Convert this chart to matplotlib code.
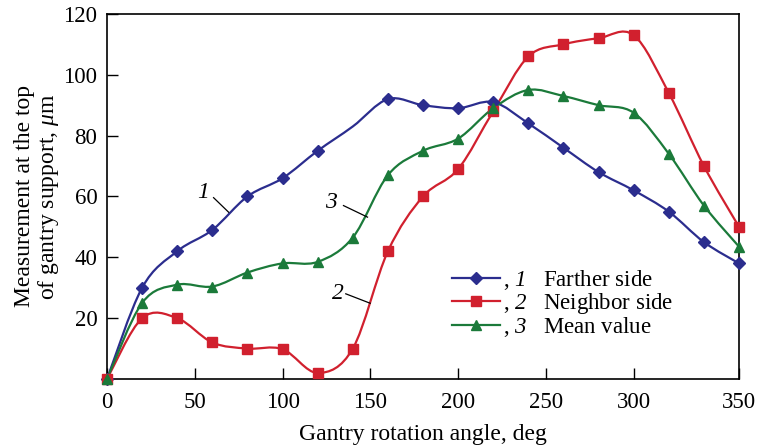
import numpy as np
import matplotlib
matplotlib.use('Agg')
import matplotlib.pyplot as plt
from matplotlib.path import Path
from matplotlib.patches import PathPatch
from matplotlib.lines import Line2D

plt.rcParams['font.family'] = ['Liberation Serif', 'DejaVu Serif']
plt.rcParams['mathtext.fontset'] = 'custom'
# digits inside $...$ come out in italic, as in the reference
plt.rcParams['mathtext.rm'] = 'Liberation Serif:italic'
plt.rcParams['mathtext.it'] = 'Liberation Serif:italic'

# angle of each measurement point (deg)
angles = [0, 20, 40, 60, 80, 100, 120, 140, 160, 180, 200, 220, 240, 260, 280, 300, 320, 340, 360]
farther = [0, 30, 42, 49, 60, 66, 75, 83, 92, 90, 89, 91, 84, 76, 68, 62, 55, 45, 38]
neighbor = [0, 20, 20, 12, 10, 9.8, 2, 10, 42, 60, 69, 88, 106, 110, 112, 113, 94, 70, 50]
mean_val = [0, 25, 31, 30.4, 35, 38, 38.5, 46.5, 67, 75, 79, 89, 95, 93, 90, 87.5, 74, 57, 43.5]

x_ticks = [0, 50, 100, 150, 200, 250, 300, 360]
x_tick_labels = ['0', '50', '100', '150', '200', '250', '300', '350']
y_ticks = [20, 40, 60, 80, 100, 120]

c_blue = '#2b2d8e'
c_red = '#d1202e'
c_green = '#1b7a3a'


def smooth_path(xs, ys):
    # Catmull-Rom through the points, drawn as cubic bezier path
    p = np.column_stack([xs, ys]).astype(float)
    p = np.vstack([p[0], p, p[-1]])
    verts = [p[1]]
    codes = [Path.MOVETO]
    for i in range(1, len(p) - 2):
        c1 = p[i] + (p[i + 1] - p[i - 1]) / 6
        c2 = p[i + 1] - (p[i + 2] - p[i]) / 6
        verts += [c1, c2, p[i + 1]]
        codes += [Path.CURVE4] * 3
    return Path(verts, codes)


fig = plt.figure(figsize=(7.6, 4.48), dpi=100)
ax = fig.add_axes([0.1408, 0.154, 0.8316, 0.815])

series = [
    (farther, c_blue, 'D', 6, r', $1$   Farther side'),
    (neighbor, c_red, 's', 6.5, r', $2$   Neighbor side'),
    (mean_val, c_green, '^', 7, r', $3$   Mean value'),
]

handles = []
for vals, col, mk, ms, lab in series:
    ax.add_patch(PathPatch(smooth_path(angles, vals), facecolor='none',
                           edgecolor=col, lw=1.6, zorder=2))
    if vals is farther:
        idx = [i for i in range(len(angles)) if angles[i] != 140]
    else:
        idx = list(range(len(angles)))
    ax.plot([angles[i] for i in idx], [vals[i] for i in idx], linestyle='none',
            marker=mk, ms=ms, color=col, zorder=3, clip_on=False)
    handles.append(Line2D([], [], color=col, lw=1.6, marker=mk, ms=ms, label=lab))

ax.set_xlim(0, 360)
ax.set_ylim(0, 120)
ax.set_xticks(x_ticks)
ax.set_xticklabels(x_tick_labels)
ax.set_yticks(y_ticks)
ax.tick_params(direction='in', length=8, width=1, labelsize=16.5, pad=7)
ax.tick_params(axis='x', pad=9)
for s in ax.spines.values():
    s.set_linewidth(1.2)

ax.set_xlabel('Gantry rotation angle, deg', fontsize=17, labelpad=8)
ax.set_ylabel('Measurement at the top\nof gantry support, $\\mu$m', fontsize=17,
              labelpad=2, linespacing=1.05)

# curve numbers with leader lines
ax.text(55, 61.2, '1', fontsize=17, style='italic', ha='center', va='center')
ax.plot([60.7, 69.3], [59.6, 54.8], color='black', lw=0.9)
ax.text(127.4, 57.9, '3', fontsize=17, style='italic', ha='center', va='center')
ax.plot([134.7, 148.4], [57.0, 53.2], color='black', lw=0.9)
ax.text(131.6, 28.2, '2', fontsize=17, style='italic', ha='center', va='center')
ax.plot([136, 149.9], [28.0, 24.9], color='black', lw=0.9)

ax.legend(handles=handles, loc='upper left', bbox_to_anchor=(0.527, 0.335),
          frameon=False, fontsize=16.5, handlelength=2.1, handletextpad=0.15,
          labelspacing=-0.05, borderpad=0)

fig.savefig('out.png', dpi=100)
